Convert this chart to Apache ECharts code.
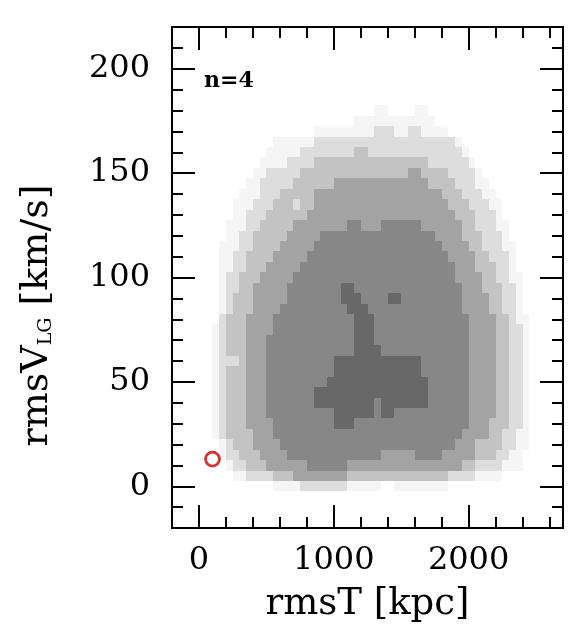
<!DOCTYPE html>
<html><head><meta charset="utf-8">
<script src="https://cdn.jsdelivr.net/npm/echarts@6/dist/echarts.min.js"></script>
<style>html,body{margin:0;padding:0;background:#fff}#c{width:585px;height:642px}</style>
</head><body><div id="c"></div>
<script>
// ---- data ----
const binX0 = 100;      // left edge of first rmsT bin [kpc]
const binW = 50;        // rmsT bin width [kpc]
const binH = 5;         // rmsV bin height [km/s]; row r is centred on 5*r
const nBinsX = 47;
// each row: list of [fromKpc, toKpc, level] painted in order (later overrides)
const row00 = [[550,1850,1],[750,1100,2],[1350,1450,0]];
const row01 = [[250,2250,1],[350,2050,2],[550,1850,3],[700,1100,4]];
const row02 = [[200,2400,1],[250,2250,2],[350,2050,3],[500,1950,4],[800,1100,5]];
const row03 = [[150,2400,1],[200,2300,2],[300,2200,3],[450,2050,4],[650,1350,5],[1600,1800,5]];
const row04 = [[150,2450,1],[200,2350,2],[250,2250,3],[400,2050,4],[600,1900,5]];
const row05 = [[100,2450,1],[150,2350,2],[200,2250,3],[400,2150,4],[550,1950,5]];
const row06 = [[100,2450,1],[150,2400,2],[200,2300,3],[350,2150,4],[550,2000,5],[1000,1150,6]];
const row07 = [[100,2450,1],[150,2400,2],[200,2300,3],[350,2200,4],[500,2000,5],[1000,1300,6],[1350,1450,6]];
const row08 = [[100,2450,1],[150,2400,2],[200,2300,3],[350,2200,4],[500,2000,5],[850,1300,6],[1350,1700,6]];
const row09 = [[100,2450,1],[150,2400,2],[200,2300,3],[350,2200,4],[500,2000,5],[850,1700,6]];
const row10 = [[100,2450,1],[150,2400,2],[200,2300,3],[350,2200,4],[500,2000,5],[950,1700,6]];
const row11 = [[100,2450,1],[150,2400,2],[200,2300,3],[350,2200,4],[500,2000,5],[1000,1650,6]];
const row12 = [[100,2450,1],[150,2400,2],[200,2300,3],[350,2200,4],[500,2000,5],[1000,1650,6],[200,300,2]];
const row13 = [[100,2450,1],[150,2400,2],[200,2300,3],[350,2200,4],[500,2000,5],[1150,1350,6]];
const row14 = [[100,2450,1],[150,2400,2],[200,2300,3],[350,2200,4],[500,2000,5],[1150,1300,6]];
const row15 = [[100,2450,1],[150,2400,2],[200,2300,3],[350,2200,4],[550,2000,5],[1150,1300,6]];
const row16 = [[150,2450,1],[150,2350,2],[200,2300,3],[350,2200,4],[550,2000,5],[1150,1300,6]];
const row17 = [[150,2400,1],[200,2350,2],[250,2250,3],[400,2150,4],[600,1950,5],[1100,1250,6]];
const row18 = [[150,2400,1],[200,2350,2],[250,2250,3],[400,2150,4],[650,1950,5],[1050,1200,6],[1400,1500,6]];
const row19 = [[150,2400,1],[200,2350,2],[300,2250,3],[400,2100,4],[650,1950,5],[1050,1150,6]];
const row20 = [[150,2400,1],[200,2300,2],[300,2200,3],[450,2100,4],[700,1900,5]];
const row21 = [[150,2350,1],[250,2300,2],[350,2200,3],[500,2050,4],[750,1900,5]];
const row22 = [[150,2350,1],[250,2300,2],[350,2150,3],[550,2050,4],[800,1850,5]];
const row23 = [[150,2350,1],[300,2250,2],[400,2100,3],[600,2000,4],[850,1800,5]];
const row24 = [[200,2300,1],[300,2250,2],[400,2100,3],[650,1950,4],[900,1750,5]];
const row25 = [[200,2300,1],[350,2200,2],[450,2050,3],[700,1950,4],[1100,1200,5],[1350,1650,5]];
const row26 = [[250,2250,1],[350,2200,2],[500,2050,3],[800,1900,4]];
const row27 = [[250,2250,1],[400,2150,2],[550,2000,3],[850,1850,4],[700,750,2]];
const row28 = [[300,2200,1],[450,2100,2],[600,1950,3],[850,1800,4]];
const row29 = [[350,2150,1],[450,2050,2],[700,1900,3],[1000,1700,4]];
const row30 = [[400,2100,1],[500,2050,2],[750,1850,3],[1550,1650,4]];
const row31 = [[450,2050,1],[650,2000,2],[850,1700,3]];
const row32 = [[500,2000,1],[750,1950,2],[1150,1250,3]];
const row33 = [[550,1950,1],[850,1900,2]];
const row34 = [[850,1850,1],[1300,1450,2],[1550,1650,2]];
const row35 = [[1150,1750,1]];
const row36 = [[1300,1400,1],[1600,1700,1]];
const levelRows = [row00,row01,row02,row03,row04,row05,row06,row07,row08,row09,row10,row11,row12,
  row13,row14,row15,row16,row17,row18,row19,row20,row21,row22,row23,row24,row25,row26,row27,row28,
  row29,row30,row31,row32,row33,row34,row35,row36];
const refPoint = [[100, 13]];
const xMajorTicks = [0, 1000, 2000];
const xMinorTicks = [0,200,400,600,800,1000,1200,1400,1600,1800,2000,2200,2400,2600];
const yMajorTicks = [0, 50, 100, 150, 200];
const yMinorTicks = [-10,0,10,20,30,40,50,60,70,80,90,100,110,120,130,140,150,160,170,180,190,200,210];
const xRange = [-200, 2700];
const yRange = [-20, 220];

// ---- styles ----
const levelColors = ['#ffffff','#f5f5f5','#dddddd','#c3c3c3','#a3a3a3','#878787','#686868'];
const FONT = '"DejaVu Serif", "Liberation Serif", serif';
const MAJOR_LEN = 23, MINOR_LEN = 11;

// ---- build cells ----
const cells = [];
levelRows.forEach((segs, r) => {
  const lv = new Array(nBinsX).fill(0);
  segs.forEach(([a, b, l]) => {
    for (let j = 0; j < nBinsX; j++) {
      const x0 = binX0 + j * binW, x1 = x0 + binW;
      if (x0 >= a && x1 <= b) lv[j] = l;
    }
  });
  lv.forEach((l, j) => { if (l > 0) cells.push([binX0 + (j + 0.5) * binW, r * binH, l]); });
});

const chart = echarts.init(document.getElementById('c'), null, {renderer: 'canvas'});
const black = '#000';
const plain = v => String(v);
function xAx(pos, ticks, len, labels, extra) {
  return Object.assign({
    type: 'value', min: xRange[0], max: xRange[1], position: pos,
    axisLine: {show: true, onZero: false, lineStyle: {color: black, width: 2}},
    axisTick: {show: true, inside: true, length: len, customValues: ticks, lineStyle: {color: black, width: 2}},
    axisLabel: labels ? {show: true, customValues: xMajorTicks, formatter: plain, color: black, fontFamily: FONT, fontSize: 32, margin: 17} : {show: false},
    splitLine: {show: false}
  }, extra || {});
}
function yAx(pos, ticks, len, labels, extra) {
  return Object.assign({
    type: 'value', min: yRange[0], max: yRange[1], position: pos,
    axisLine: {show: true, onZero: false, lineStyle: {color: black, width: 2}},
    axisTick: {show: true, inside: true, length: len, customValues: ticks, lineStyle: {color: black, width: 2}},
    axisLabel: labels ? {show: true, customValues: yMajorTicks, formatter: plain, color: black, fontFamily: FONT, fontSize: 32, margin: 22} : {show: false},
    splitLine: {show: false}
  }, extra || {});
}

chart.setOption({
  animation: false,
  backgroundColor: '#fff',
  grid: {left: 172, top: 27, width: 391, height: 501, containLabel: false},
  xAxis: [
    xAx('bottom', xMajorTicks, MAJOR_LEN, true, {name: 'rmsT [kpc]', nameLocation: 'middle', nameGap: 58,
      nameTextStyle: {color: black, fontFamily: FONT, fontSize: 37}}),
    xAx('bottom', xMinorTicks, MINOR_LEN, false),
    xAx('top', xMajorTicks, MAJOR_LEN, false),
    xAx('top', xMinorTicks, MINOR_LEN, false)
  ],
  yAxis: [
    yAx('left', yMajorTicks, MAJOR_LEN, true, {name: '{m|rmsV}{s|LG}{m| [km/s]}', nameLocation: 'middle', nameGap: 116,
      nameTextStyle: {color: black, fontFamily: FONT, fontSize: 38, padding: [0, 76, 0, 0],
        rich: {m: {fontFamily: FONT, fontSize: 38, color: black, verticalAlign: 'bottom'},
               s: {fontFamily: FONT, fontSize: 19, color: black, verticalAlign: 'bottom'}}}}),
    yAx('left', yMinorTicks, MINOR_LEN, false),
    yAx('right', yMajorTicks, MAJOR_LEN, false),
    yAx('right', yMinorTicks, MINOR_LEN, false)
  ],
  series: [
    {
      type: 'custom', xAxisIndex: 0, yAxisIndex: 0, data: cells,
      encode: {x: 0, y: 1},
      renderItem: function (params, api) {
        const x = api.value(0), y = api.value(1), l = api.value(2);
        const p0 = api.coord([x - binW / 2, y + binH / 2]);
        const p1 = api.coord([x + binW / 2, y - binH / 2]);
        const x0 = Math.round(p0[0]), y0 = Math.round(p0[1]);
        return {type: 'rect', shape: {x: x0, y: y0, width: Math.round(p1[0]) - x0, height: Math.round(p1[1]) - y0},
          style: {fill: levelColors[l]}};
      },
      z: 1
    },
    {
      type: 'scatter', xAxisIndex: 0, yAxisIndex: 0, data: refPoint,
      symbol: 'circle', symbolSize: 14,
      itemStyle: {color: 'rgba(0,0,0,0)', borderColor: '#cc0000', borderWidth: 2.8},
      z: 3
    }
  ],
  graphic: [{type: 'text', left: 204, top: 70, z: 10,
    style: {text: 'n=4', fontFamily: FONT, fontSize: 22, fontWeight: 'bold', fill: black}}]
});
</script></body></html>
